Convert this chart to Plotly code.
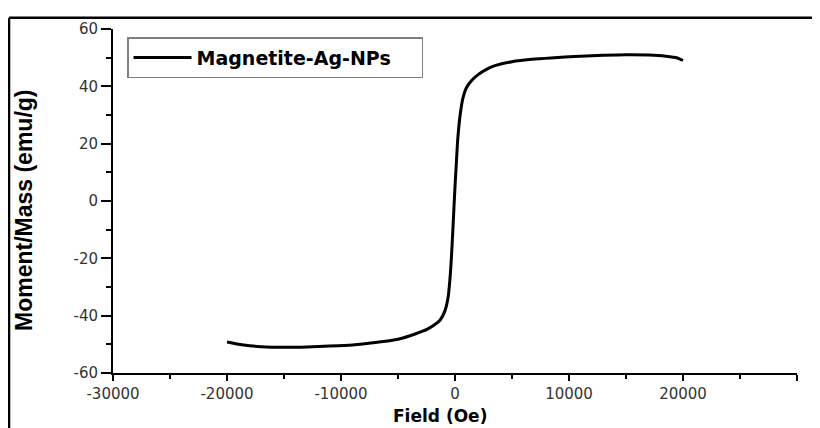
import plotly.graph_objects as go

# Field (Oe) and moment/mass (emu/g)
field_oe = [-20000, -19000, -18000, -17000, -15000, -13000, -11000, -9000, -7000,
            -5500, -4500, -3500, -2500, -1800, -1300, -900, -600, -400, -250, -100,
            0, 100, 250, 450, 700, 1000, 1400, 2000, 2800, 3500, 5000, 7000, 9000,
            11000, 13000, 15000, 17000, 18500, 19500, 20000]
moment_emu_g = [-49.2, -50.0, -50.5, -50.8, -51.0, -50.9, -50.6, -50.2, -49.4,
                -48.6, -47.7, -46.4, -44.9, -43.2, -41.5, -38.5, -33.5, -25.0, -15.0, -3.0,
                5.0, 12.0, 22.0, 30.0, 36.0, 39.5, 41.8, 44.0, 46.0, 47.2, 48.6, 49.5, 50.1,
                50.5, 50.8, 51.0, 50.9, 50.5, 49.9, 49.0]
series_name = "Magnetite-Ag-NPs"
x_ticks = [-30000, -20000, -10000, 0, 10000, 20000, 30000]
y_ticks = [-60, -40, -20, 0, 20, 40, 60]

fig = go.Figure()
fig.add_trace(go.Scatter(x=field_oe, y=moment_emu_g, mode="lines", name=series_name,
                         line=dict(color="black", width=3, shape="spline", smoothing=0.6)))

tickfont = dict(family="DejaVu Sans", size=15, color="#333333")
fig.update_layout(
    width=812, height=420,
    margin=dict(l=105, r=23, t=17, b=55),
    paper_bgcolor="white", plot_bgcolor="white",
    showlegend=True,
    legend=dict(x=0.0205, y=0.917, xanchor="left", yanchor="middle", orientation="h",
                bordercolor="#808080", borderwidth=1.5, bgcolor="white",
                font=dict(family="DejaVu Sans", size=19, color="black", weight="bold"),
                itemwidth=58, entrywidth=220, entrywidthmode="pixels"),
    xaxis=dict(range=[-30000, 30000], tickvals=x_ticks, ticktext=[str(v) for v in x_ticks],
               showgrid=False, zeroline=False, showline=True, linecolor="black", linewidth=2,
               ticks="outside", ticklen=6, tickwidth=1.5, tickcolor="black", tickfont=tickfont,
               minor=dict(dtick=5000, ticks="outside", ticklen=4, tickwidth=1.5, tickcolor="black")),
    yaxis=dict(range=[-60, 60], tickvals=y_ticks, ticktext=[str(v) for v in y_ticks],
               showgrid=False, zeroline=False, showline=True, linecolor="black", linewidth=2,
               ticks="outside", ticklen=10, tickwidth=1.5, tickcolor="black", tickfont=tickfont,
               minor=dict(dtick=10, ticks="outside", ticklen=5, tickwidth=1.5, tickcolor="black")),
    annotations=[
        dict(text="<b>Field (Oe)</b>", xref="paper", yref="paper", x=0.478, y=-0.1236,
             xanchor="center", yanchor="middle", showarrow=False,
             font=dict(family="DejaVu Sans", size=17, color="black")),
        dict(text="<b>Moment/Mass (emu/g)</b>", xref="paper", yref="paper", x=-0.130, y=0.474,
             xanchor="center", yanchor="middle", showarrow=False, textangle=-90,
             font=dict(family="Liberation Sans", size=23, color="black")),
    ],
    shapes=[
        dict(type="line", xref="paper", yref="paper", x0=-0.152, x1=-0.152, y0=-0.2, y1=1.033,
             line=dict(color="black", width=2.5)),
        dict(type="line", xref="paper", yref="paper", x0=-0.152, x1=1.05, y0=1.033, y1=1.033,
             line=dict(color="black", width=2.5)),
    ],
)

fig.write_html("out.html")
